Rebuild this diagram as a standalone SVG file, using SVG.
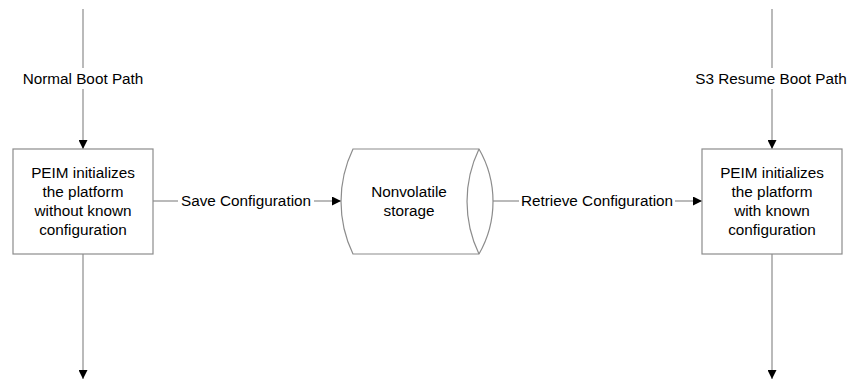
<svg xmlns="http://www.w3.org/2000/svg" width="851" height="379" viewBox="0 0 851 379">
<defs>
<marker id="arr" viewBox="0 0 10 10" refX="10" refY="5" markerWidth="10" markerHeight="9" markerUnits="userSpaceOnUse" orient="auto">
<path d="M0,0 L10,5 L0,10 Z" fill="#000"/>
</marker>
<style>
.ln{stroke:#8c8c8c;stroke-width:1.2;fill:none}
.bx{stroke:#8c8c8c;stroke-width:1.2;fill:#fff}
text{font-family:"Liberation Sans",Arial,sans-serif;font-size:15.3px;fill:#000;text-anchor:middle}
</style>
</defs>
<rect width="851" height="379" fill="#fff"/>
<g id="connectors">
<line class="ln" x1="83" y1="9" x2="83" y2="68"/>
<line class="ln" x1="83" y1="89" x2="83" y2="149" marker-end="url(#arr)"/>
<line class="ln" x1="83" y1="254" x2="83" y2="379" marker-end="url(#arr)"/>
<line class="ln" x1="772" y1="9" x2="772" y2="68"/>
<line class="ln" x1="772" y1="89" x2="772" y2="149" marker-end="url(#arr)"/>
<line class="ln" x1="772" y1="254" x2="772" y2="379" marker-end="url(#arr)"/>
<line class="ln" x1="153" y1="201" x2="178" y2="201"/>
<line class="ln" x1="314" y1="201" x2="341" y2="201" marker-end="url(#arr)"/>
<line class="ln" x1="493" y1="201" x2="519" y2="201"/>
<line class="ln" x1="675" y1="201" x2="702" y2="201" marker-end="url(#arr)"/>
<text x="83" y="84">Normal Boot Path</text>
<text x="771" y="84">S3 Resume Boot Path</text>
<text x="246" y="206">Save Configuration</text>
<text x="597" y="206">Retrieve Configuration</text>
</g>
<g id="node-left">
<rect class="bx" x="13" y="149" width="140" height="105"/>
<text x="83" y="178">PEIM initializes</text>
<text x="83" y="197">the platform</text>
<text x="83" y="216">without known</text>
<text x="83" y="235">configuration</text>
</g>
<g id="node-storage">
<path class="bx" d="M353,149 L479,149 A105.4,105.4 0 0 1 479,254 L353,254 A121,121 0 0 1 353,149 Z"/>
<path class="ln" d="M479,149 A121,121 0 0 0 479,254"/>
<text x="409" y="197">Nonvolatile</text>
<text x="409" y="216">storage</text>
</g>
<g id="node-right">
<rect class="bx" x="702" y="149" width="140" height="105"/>
<text x="772" y="178">PEIM initializes</text>
<text x="772" y="197">the platform</text>
<text x="772" y="216">with known</text>
<text x="772" y="235">configuration</text>
</g>
</svg>
